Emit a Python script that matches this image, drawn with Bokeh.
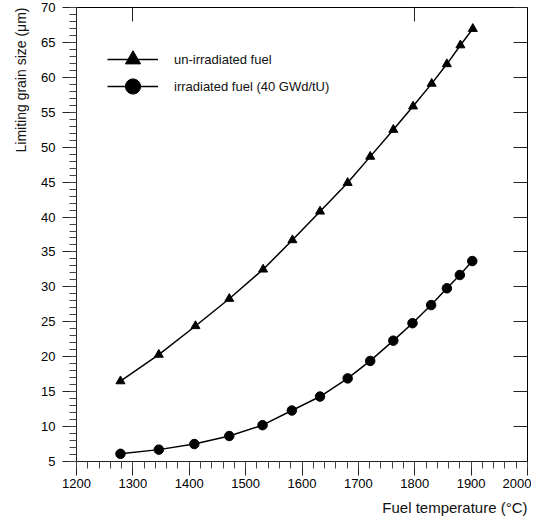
from bokeh.plotting import figure
from bokeh.models import (Range1d, LinearAxis, FixedTicker, Legend, LegendItem,
                          Title, SingleIntervalTicker, CustomJSTickFormatter)
from bokeh.embed import file_html
from bokeh.resources import INLINE

# Data
temp_unirr = [1278, 1346, 1411, 1471, 1531, 1583, 1632, 1681, 1721, 1762,
              1797, 1830, 1857, 1881, 1903]
size_unirr = [16.5, 20.3, 24.4, 28.3, 32.5, 36.7, 40.8, 44.9, 48.65, 52.5,
              55.85, 59.1, 61.9, 64.6, 66.95]
temp_irr = [1278, 1346, 1409, 1471, 1530, 1582, 1632, 1681, 1721, 1762,
            1796, 1829, 1857, 1880, 1902]
size_irr = [6.1, 6.7, 7.5, 8.65, 10.2, 12.3, 14.3, 16.9, 19.4, 22.3,
            24.8, 27.4, 29.8, 31.7, 33.7]
label_unirr = "un-irradiated fuel"
label_irr = "irradiated fuel (40 GWd/tU)"
x_title = "Fuel temperature (\u00b0C)"
y_title = "Limiting grain size (\u03bcm)"

FONT = "Liberation Sans"

p = figure(width=531, height=521, output_backend="svg", toolbar_location=None,
           x_range=Range1d(1200, 2000), y_range=Range1d(5, 70),
           min_border_left=20, min_border_right=4, min_border_top=7,
           min_border_bottom=20)
p.xgrid.visible = False
p.ygrid.visible = False
p.outline_line_color = "black"
p.outline_line_width = 1
p.background_fill_color = "white"
p.border_fill_color = "white"

for ax in (p.xaxis[0], p.yaxis[0]):
    ax.major_tick_out = 14
    ax.major_tick_in = 0
    ax.minor_tick_out = 7
    ax.minor_tick_in = 0
    ax.major_label_text_font = FONT
    ax.major_label_text_font_size = "13px"
    ax.major_label_text_color = "black"
    ax.axis_line_color = "#222222"
    ax.major_tick_line_color = "#222222"
    ax.minor_tick_line_color = "#444444"

p.xaxis[0].ticker = SingleIntervalTicker(interval=100, num_minor_ticks=5)
p.yaxis[0].ticker = SingleIntervalTicker(interval=5, num_minor_ticks=5)
p.xaxis[0].major_label_standoff = 3
p.yaxis[0].major_label_standoff = 7

blank = CustomJSTickFormatter(code="return ''")
# right axis: inward ticks, no labels
ra = LinearAxis(ticker=SingleIntervalTicker(interval=5, num_minor_ticks=0),
                formatter=blank,
                major_tick_in=14, major_tick_out=0, minor_tick_in=0, minor_tick_out=0,
                major_label_standoff=0,
                axis_line_color=None, major_tick_line_color="#222222")
p.add_layout(ra, "right")
ta = LinearAxis(ticker=FixedTicker(ticks=[1300, 1800]), formatter=blank,
                major_tick_in=14, major_tick_out=0, minor_tick_in=0, minor_tick_out=0,
                major_label_standoff=0,
                axis_line_color=None, major_tick_line_color="#222222")
p.add_layout(ta, "above")

# axis titles
xt = Title(text=x_title, align="right", text_font=FONT, text_font_size="15px",
           text_font_style="normal", text_color="#111111", standoff=12, offset=0)
p.add_layout(xt, "below")
yt = Title(text=y_title, align="right", text_font=FONT, text_font_size="14px",
           text_font_style="normal", text_color="#111111", standoff=20, offset=0)
p.add_layout(yt, "left")

l1 = p.line(temp_unirr, size_unirr, line_color="black", line_width=1.5)
m1 = p.scatter(temp_unirr, size_unirr, marker="triangle", size=9,
               fill_color="black", line_color="black")
l2 = p.line(temp_irr, size_irr, line_color="black", line_width=1.5)
m2 = p.scatter(temp_irr, size_irr, marker="circle", size=9.5,
               fill_color="black", line_color="black")

legend_style = dict(padding=0, margin=0, spacing=0,
                    glyph_width=51, glyph_height=38, label_standoff=16,
                    label_text_font=FONT, label_text_font_size="13px",
                    label_text_color="#111111",
                    border_line_color=None, background_fill_alpha=0)
leg1 = Legend(items=[LegendItem(label=label_unirr, renderers=[l1, m1])],
              location=(31, 383), **legend_style)
leg2 = Legend(items=[LegendItem(label=label_irr, renderers=[l2, m2])],
              location=(31, 356), **legend_style)
p.add_layout(leg1, "center")
p.add_layout(leg2, "center")

open("out.html", "w").write(file_html(p, INLINE))
